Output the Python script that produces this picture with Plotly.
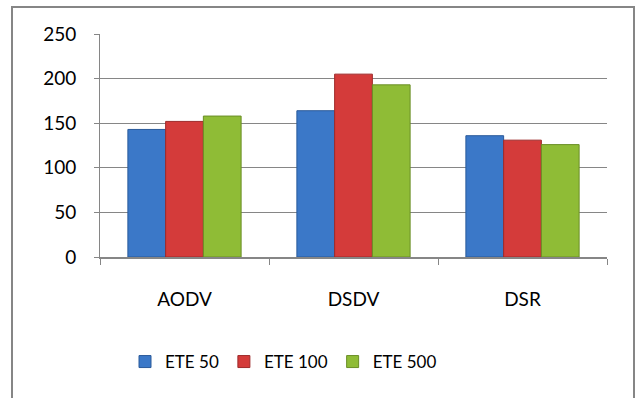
import plotly.graph_objects as go

protocols = ["AODV", "DSDV", "DSR"]
ete_50 = [143, 164, 136]
ete_100 = [152, 205, 131]
ete_500 = [158, 193, 126]
series_names = ["ETE 50", "ETE 100", "ETE 500"]
series_colors = ["#3b78c8", "#d43b3a", "#8fbc36"]
edge_colors = ["#2a5a9a", "#9e2a2a", "#6a8e26"]

W, H = 637, 398
L, R, T, B = 100, 30, 34, 141
pw, ph = W - L - R, H - T - B

fig = go.Figure()
for name, vals, col, edge in zip(series_names, [ete_50, ete_100, ete_500],
                                 series_colors, edge_colors):
    fig.add_trace(go.Bar(
        x=protocols, y=vals, name=name,
        marker=dict(color=col, line=dict(color=edge, width=1)),
    ))

def px_to_paper_x(px):
    return (px - L) / pw

def px_to_paper_y(py):
    return (H - B - py) / ph

# outer chart-area frame
fig.add_shape(
    type="rect", xref="paper", yref="paper",
    x0=px_to_paper_x(12), x1=px_to_paper_x(634),
    y0=px_to_paper_y(410), y1=px_to_paper_y(7),
    line=dict(color="#868686", width=2), fillcolor="rgba(0,0,0,0)",
    layer="below",
)

fig.update_layout(
    width=W, height=H,
    margin=dict(l=L, r=R, t=T, b=B, pad=0),
    paper_bgcolor="white", plot_bgcolor="white",
    barmode="group", bargap=0.33, bargroupgap=0,
    font=dict(family="Lato, Open Sans, sans-serif", size=19, color="#000000"),
    showlegend=True,
    legend=dict(
        orientation="h", x=px_to_paper_x(125), xanchor="left",
        y=px_to_paper_y(362), yanchor="middle",
        font=dict(size=17), itemwidth=30, tracegroupgap=0,
        bgcolor="rgba(0,0,0,0)",
    ),
    xaxis=dict(
        showline=True, linecolor="#868686", linewidth=2,
        ticks="outside", ticklen=6, tickcolor="#868686", tickwidth=1,
        tickson="boundaries", showgrid=False,
        ticklabelstandoff=24,
    ),
    yaxis=dict(
        range=[0, 250], dtick=50,
        showline=True, linecolor="#868686", linewidth=1,
        ticks="outside", ticklen=5, tickcolor="#868686",
        showgrid=True, gridcolor="#868686", gridwidth=1,
        zeroline=False, ticklabelstandoff=14,
    ),
)

fig.write_html("out.html")
